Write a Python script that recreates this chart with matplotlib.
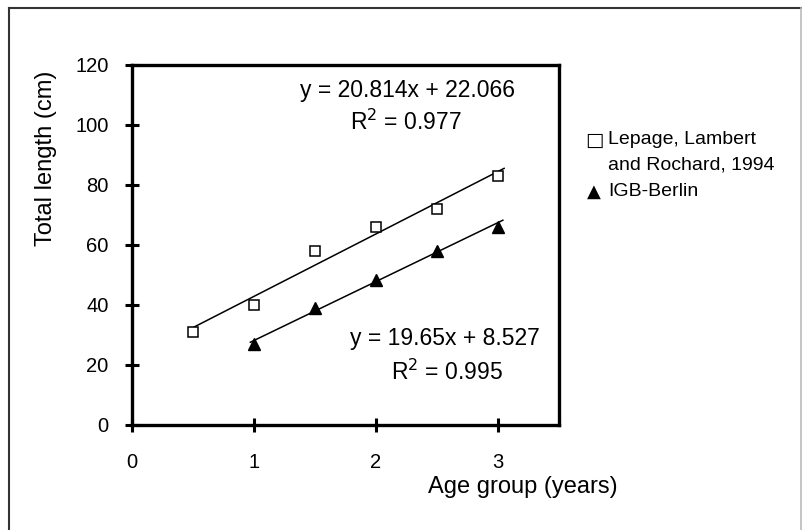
import numpy as np
import matplotlib
matplotlib.use("Agg")
import matplotlib.pyplot as plt
from matplotlib.lines import Line2D

plt.rcParams['font.family'] = ['Liberation Sans', 'DejaVu Sans']

# Lepage, Lambert and Rochard, 1994 (open squares)
lep_age = [0.5, 1.0, 1.5, 2.0, 2.5, 3.0]
lep_len = [31, 40, 58, 66, 72, 83]
lep_fit = (20.814, 22.066)
lep_r2 = 0.977

# IGB-Berlin (filled triangles)
igb_age = [1.0, 1.5, 2.0, 2.5, 3.0]
igb_len = [27, 39, 48.5, 58, 66]
igb_fit = (19.65, 8.527)
igb_r2 = 0.995

xticks = [0, 1, 2, 3]
yticks = [0, 20, 40, 60, 80, 100, 120]

W, H = 802, 530
fig = plt.figure(figsize=(W/100, H/100), dpi=100)

# outer frame (bottom edge falls outside the picture)
fig.add_artist(Line2D([9/W, 9/W], [0, 1-8/H], color='#333333', lw=1.5))
fig.add_artist(Line2D([9/W, 801/W], [1-8/H, 1-8/H], color='#333333', lw=1.5))
fig.add_artist(Line2D([801/W, 801/W], [0, 1-8/H], color='#bbbbbb', lw=1.2))

ax = fig.add_axes([132/W, 1-425/H, (559-132)/W, (425-65)/H])

# trend lines
xl = np.array([0.48, 3.05])
ax.plot(xl, lep_fit[0]*xl + lep_fit[1], color='black', lw=1.1, zorder=2)
xi = np.array([0.97, 3.04])
ax.plot(xi, igb_fit[0]*xi + igb_fit[1], color='black', lw=1.1, zorder=2)

ax.plot(lep_age, lep_len, linestyle='none', marker='s', ms=7.5,
        mfc='white', mec='black', mew=1.1, zorder=3)
ax.plot(igb_age, igb_len, linestyle='none', marker='^', ms=8.5,
        mfc='black', mec='black', zorder=3)

ax.set_xlim(0, 3.5)
ax.set_ylim(0, 120)
ax.set_xticks(xticks)
ax.set_yticks(yticks)
for s in ax.spines.values():
    s.set_linewidth(2.4)
ax.tick_params(axis='x', direction='inout', length=10, width=2.2,
               labelsize=14.5, pad=15)
ax.tick_params(axis='y', direction='inout', length=10, width=2.2,
               labelsize=14.5, pad=12)

# regression equations
fig.text(407/W, 1-90/H, 'y = %.3fx + %.3f' % lep_fit, fontsize=16.5,
         ha='center', va='center')
fig.text(406/W, 1-122/H, 'R$^2$ = %.3f' % lep_r2, fontsize=16.5,
         ha='center', va='center')
fig.text(445/W, 1-339/H, 'y = %.2fx + %.3f' % igb_fit, fontsize=16.5,
         ha='center', va='center')
fig.text(447/W, 1-372/H, 'R$^2$ = %.3f' % igb_r2, fontsize=16.5,
         ha='center', va='center')

# axis labels
fig.text(46/W, 1-158/H, 'Total length (cm)', fontsize=17, rotation=90,
         ha='center', va='center')
fig.text(523/W, 1-487/H, 'Age group (years)', fontsize=17,
         ha='center', va='center')

# legend
fig.text(594/W, 1-140/H, '\u25a1', fontsize=14, family='DejaVu Sans',
         ha='center', va='center')
fig.text(608/W, 1-140/H, 'Lepage, Lambert', fontsize=14,
         ha='left', va='center')
fig.text(608/W, 1-165/H, 'and Rochard, 1994', fontsize=14,
         ha='left', va='center')
fig.text(594/W, 1-192/H, '\u25b2', fontsize=13, family='DejaVu Sans',
         ha='center', va='center')
fig.text(608/W, 1-192/H, 'IGB-Berlin', fontsize=14,
         ha='left', va='center')

fig.savefig('out.png', dpi=100)
